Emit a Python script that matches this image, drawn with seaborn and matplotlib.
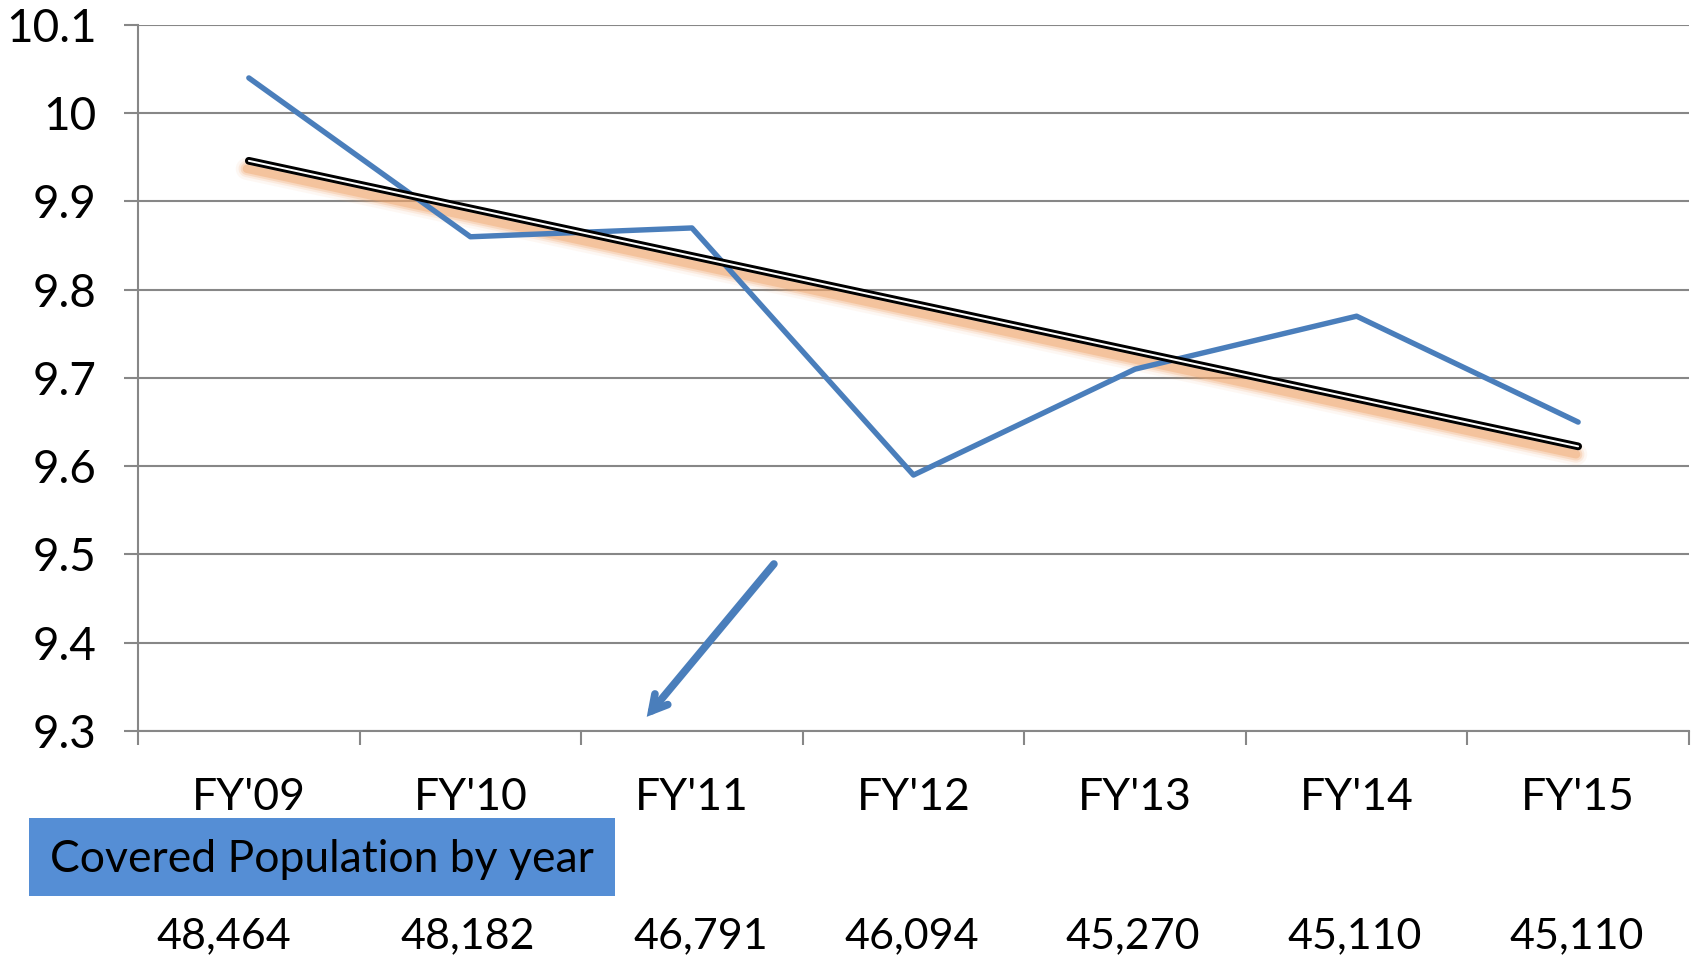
import matplotlib.pyplot as plt
import matplotlib.transforms as mtransforms
from matplotlib.patches import Rectangle
import seaborn as sns
import numpy as np
import pandas as pd

# data
years = ["FY'09", "FY'10", "FY'11", "FY'12", "FY'13", "FY'14", "FY'15"]
values = [10.04, 9.86, 9.87, 9.59, 9.71, 9.77, 9.65]
population = ["48,464", "48,182", "46,791", "46,094", "45,270", "45,110", "45,110"]
y_ticks = [9.3, 9.4, 9.5, 9.6, 9.7, 9.8, 9.9, 10.0, 10.1]
y_labels = ["9.3", "9.4", "9.5", "9.6", "9.7", "9.8", "9.9", "10", "10.1"]
box_label = "Covered Population by year"

BLUE = "#4A7EBB"
GRID = "#878787"

sns.set_theme(style="white")
plt.rcParams['font.family'] = ['Lato', 'DejaVu Sans']

df = pd.DataFrame({"x": np.arange(len(years)), "value": values})

fig = plt.figure(figsize=(16.94, 9.57), dpi=100)
ax = fig.add_axes([0.0815, 0.2362, 0.9155, 0.7377])

# linear trend line (least squares on the series)
slope, intercept = np.polyfit(df["x"], df["value"], 1)
trend_x = np.array([df["x"].min(), df["x"].max()])
trend_y = slope * trend_x + intercept

# orange soft glow below the trend line
shift = mtransforms.ScaledTranslation(-2 / 100, -8 / 100, fig.dpi_scale_trans)
for lw, a in [(16, 0.08), (12, 0.15), (9, 0.25), (6, 0.40)]:
    ax.plot(trend_x, trend_y, color="#F0A46A", linewidth=lw, alpha=a,
            solid_capstyle="round", zorder=2, transform=ax.transData + shift)

sns.lineplot(data=df, x="x", y="value", ax=ax, color=BLUE, linewidth=3.9, zorder=3)
ax.get_lines()[-1].set_solid_capstyle("round")

ax.plot(trend_x, trend_y, color="black", linewidth=5.6, solid_capstyle="round", zorder=4)
ax.plot(trend_x, trend_y, color="white", linewidth=1.4, solid_capstyle="round", zorder=5)

ax.set_xlim(-0.5, len(years) - 0.5)
ax.set_ylim(9.3, 10.1)
ax.set_yticks(y_ticks)
ax.set_yticklabels(y_labels)
ax.set_xticks(np.arange(len(years)))
ax.set_xticklabels(years)
ax.set_xticks(np.arange(len(years) + 1) - 0.5, minor=True)
ax.set_xlabel("")
ax.set_ylabel("")

ax.yaxis.grid(True, color=GRID, linewidth=1.5)
ax.set_axisbelow(True)
for s in ["top", "right"]:
    ax.spines[s].set_visible(False)
for s in ["left", "bottom"]:
    ax.spines[s].set_color(GRID)
    ax.spines[s].set_linewidth(1.5)

ax.tick_params(axis="y", which="major", length=10, width=1.5, color=GRID,
               labelsize=33, pad=20, labelcolor="black", left=True)
ax.tick_params(axis="x", which="major", length=0, labelsize=32, pad=33, labelcolor="black")
ax.tick_params(axis="x", which="minor", length=10, width=1.5, color=GRID, bottom=True)

# arrow
ax.annotate("", xy=(0.328, 0.020), xytext=(0.410, 0.2365),
            xycoords="axes fraction", textcoords="axes fraction",
            arrowprops=dict(arrowstyle="->,head_length=0.9,head_width=0.5",
                            color=BLUE, linewidth=5.5, shrinkA=0, shrinkB=0,
                            capstyle="round", joinstyle="miter"))

# label box
fig.patches.append(Rectangle((29 / 1694, 1 - 896 / 957), 586 / 1694, 78 / 957,
                             transform=fig.transFigure, facecolor="#558ED5",
                             edgecolor="none", zorder=1))
fig.text(50 / 1694, 1 - 859 / 957, box_label, fontsize=32, va="center", ha="left",
         color="black", zorder=2)

# population numbers under each year (small manual nudges in pixels, as in the source)
nudge_px = [-25, -3, 9, -2, -2, -2, -2]
blend = mtransforms.blended_transform_factory(ax.transData, fig.transFigure)
for i, p in enumerate(population):
    off = mtransforms.ScaledTranslation(nudge_px[i] / 100, 0, fig.dpi_scale_trans)
    ax.text(i, 1 - 936 / 957, p, transform=blend + off, ha="center", va="center",
            fontsize=31, color="black", clip_on=False)

fig.savefig("out.png", dpi=100)
